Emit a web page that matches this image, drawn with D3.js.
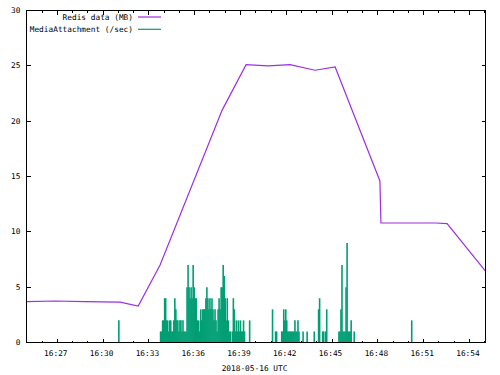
<!DOCTYPE html>
<html><head><meta charset="utf-8">
<script src="https://cdn.jsdelivr.net/npm/d3@7"></script>
<style>
body{margin:0;background:#fff}
text{font-family:"DejaVu Sans Mono",monospace;font-size:7.8px;fill:#000}
</style>
</head><body><svg id="c" width="500" height="375"></svg>
<script>
// ---- data ----
const redisTimes = ["16:24:59","16:26:52","16:28:50","16:31:07","16:32:18","16:33:44","16:37:48","16:39:22","16:40:49","16:42:15","16:43:53","16:45:12","16:48:08","16:48:12","16:51:48","16:52:32","16:55:03"];
const redisValues = [3.7,3.75,3.7,3.65,3.3,7.0,21.0,25.1,25.0,25.1,24.6,24.9,14.6,10.8,10.8,10.75,6.45];

const mediaStep = 4; // seconds between samples inside a run
const mediaStarts = ["16:31:02","16:33:46","16:36:24","16:39:36","16:41:06","16:44:07","16:50:13"];
const mediaRuns = [
  [2],
  [1,1,2,2,4,4,2,2,1,2, 2,1,1,2,4,3,2,2,1,2, 2,1,2,1,1,1,5,7,5,4, 5,4,7,5,4,4,2,2,1,2],
  [3,2,3,3,3,4,5,4,3,4, 3,4,3,2,3,2,1,3,4,3, 5,5,7,6,4,2,4,2,1,1, 0,1,4,3,1,2,1,2,1,2, 1,1,2,1],
  [2],
  [3,0,0,1,1,0,0,0,0,1, 1,3,2,3,2,1,1,1,1,1, 1,1,2,1,1,2,1,0,0,0, 1,0,0,0,1,0,0,0,0,0, 0,1],
  [3,4,0,0,1,1,0,1,3,0, 0,0,0,0,0,0,0,0,0,0, 1,1,3,7,1,1,1,5,9,1, 1,1,2,0,0,1],
  [2]
];

const xDomain = ["16:24:59","16:55:03"];
const xTickLabels = ["16:27","16:30","16:33","16:36","16:39","16:42","16:45","16:48","16:51","16:54"];
const yTicks = [0,5,10,15,20,25,30];
const dateLabel = "2018-05-16 UTC";
const legendLabels = ["Redis data (MB)","MediaAttachment (/sec)"];
const colors = ["#9f2ee0","#009e73"];

// ---- drawing ----
const svg = d3.select("#c");
const parse = d3.timeParse("%H:%M:%S");
const parseHM = d3.timeParse("%H:%M");
const L = 26.5, R = 485.5, T = 10.5, B = 342.5;
const x = d3.scaleTime().domain(xDomain.map(parse)).range([L, R]);
const y = d3.scaleLinear().domain([0, 30]).range([B, T]);

const majorX = xTickLabels.map(parseHM);
const minorX = d3.timeMinute.range(x.domain()[0], x.domain()[1]);

function tickAxis(axis, tr){
  const g = svg.append("g").attr("class","axis").attr("transform", tr).call(axis);
  g.select(".domain").remove();
  g.selectAll(".tick line").attr("stroke","#000").attr("shape-rendering","crispEdges");
  g.attr("font-family", null).attr("font-size", null);
  g.selectAll("text").attr("fill","#000");
  return g;
}
// minor x ticks, bottom & top
tickAxis(d3.axisBottom(x).tickValues(minorX).tickSize(-2).tickFormat("").offset(0), `translate(0,${B})`);
tickAxis(d3.axisTop(x).tickValues(minorX).tickSize(-2).tickFormat("").offset(0), `translate(0,${T})`);
// major x ticks with labels
const gx = tickAxis(d3.axisBottom(x).tickValues(majorX).tickSize(-4).tickPadding(8)
  .tickFormat(d3.timeFormat("%H:%M")).offset(0), `translate(0,${B})`);
gx.selectAll("text").attr("dx", -1.5);
tickAxis(d3.axisTop(x).tickValues(majorX).tickSize(-4).tickFormat("").offset(0), `translate(0,${T})`);
// y ticks
tickAxis(d3.axisLeft(y).tickValues(yTicks).tickSize(-4).tickPadding(6).offset(0), `translate(${L},0)`);
tickAxis(d3.axisRight(y).tickValues(yTicks).tickSize(-4).tickFormat("").offset(0), `translate(${R},0)`);

// Redis line
const redis = redisTimes.map((t,i)=>({t: parse(t), v: redisValues[i]}));
svg.append("path").attr("class","redis").datum(redis)
  .attr("d", d3.line().x(d=>x(d.t)).y(d=>y(d.v)))
  .attr("fill","none").attr("stroke", colors[0]).attr("stroke-width", 1.2);

// MediaAttachment impulses
const media = [];
mediaStarts.forEach((s,i)=>{
  const t0 = parse(s).getTime();
  mediaRuns[i].forEach((v,j)=>{ if (v > 0) media.push({t: new Date(t0 + j*mediaStep*1000), v}); });
});
svg.append("g").attr("class","media").selectAll("line.imp").data(media).join("line")
  .attr("class","imp")
  .attr("x1", d=>x(d.t)).attr("x2", d=>x(d.t))
  .attr("y1", y(0)).attr("y2", d=>y(d.v))
  .attr("stroke", colors[1]).attr("stroke-width", 1.6);

// border
svg.append("rect").attr("x", L).attr("y", T).attr("width", R-L).attr("height", B-T)
  .attr("fill","none").attr("stroke","#000").attr("stroke-width",1).attr("shape-rendering","crispEdges");

// x axis label
svg.append("text").attr("x", 254.5).attr("y", 368).attr("text-anchor","middle")
  .attr("dominant-baseline","central").text(dateLabel);

// legend
const legY = [17, 29.3];
const leg = svg.append("g").attr("class","legend");
legendLabels.forEach((lab,i)=>{
  leg.append("text").attr("x", 133).attr("y", legY[i]).attr("text-anchor","end")
    .attr("dominant-baseline","central").text(lab);
  leg.append("path").attr("d", `M138,${legY[i]}H161`)
    .attr("fill","none").attr("stroke", colors[i]).attr("stroke-width",1.2);
});
</script>
</body></html>
